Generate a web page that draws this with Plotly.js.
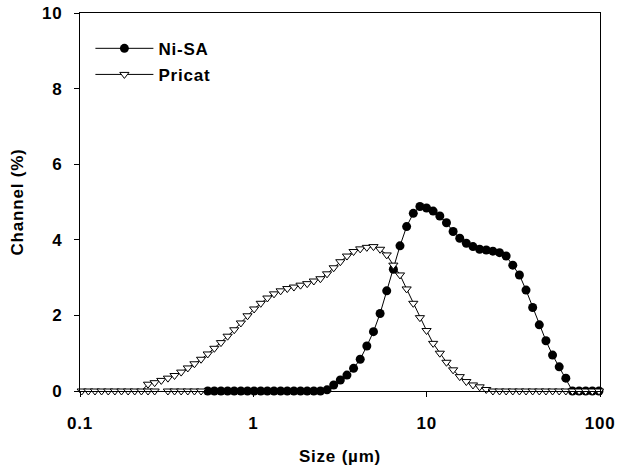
<!DOCTYPE html>
<html>
<head>
<meta charset="utf-8">
<script src="https://cdn.plot.ly/plotly-3.0.1.min.js"></script>
<style>
  html, body { margin: 0; padding: 0; background: #ffffff; }
  #chart { width: 617px; height: 474px; }
  #chart text { letter-spacing: 0.8px; }
</style>
</head>
<body>
<div id="chart"></div>
<script>
// Particle size channels (µm)
const sizeUm = [
  0.1023, 0.1117, 0.1220, 0.1332, 0.1455, 0.1589, 0.1735, 0.1895, 0.2069, 0.2260,
  0.2468, 0.2696, 0.2944, 0.3215, 0.3511, 0.3834, 0.4188, 0.4573, 0.4994, 0.5455,
  0.5957, 0.6506, 0.7105, 0.7759, 0.8474, 0.9254, 1.0105, 1.1036, 1.205, 1.316,
  1.437, 1.570, 1.714, 1.872, 2.045, 2.233, 2.438, 2.662, 2.908, 3.176,
  3.468, 3.787, 4.136, 4.517, 4.933, 5.387, 5.883, 6.425, 7.016, 7.663,
  8.372, 9.142, 9.984, 10.90, 11.91, 13.01, 14.21, 15.52, 16.94, 18.50,
  20.21, 22.07, 24.10, 26.32, 28.74, 31.39, 34.28, 37.43, 40.88, 44.65,
  48.76, 53.25, 58.16, 63.51, 69.36, 75.74, 82.71, 90.33, 98.65
];

// Ni-SA channel (%) — no data below ~0.55 µm
const niSA = [
  null, null, null, null, null, null, null, null, null, null,
  null, null, null, null, null, null, null, null, null, 0,
  0, 0, 0, 0, 0, 0, 0, 0, 0, 0,
  0, 0, 0, 0, 0, 0, 0, 0.03, 0.16, 0.29,
  0.42, 0.60, 0.84, 1.19, 1.57, 2.05, 2.65, 3.22, 3.84, 4.35,
  4.70, 4.88, 4.84, 4.76, 4.63, 4.45, 4.22, 4.04, 3.91, 3.82,
  3.75, 3.73, 3.70, 3.66, 3.57, 3.33, 3.07, 2.67, 2.21, 1.75,
  1.33, 0.95, 0.64, 0.34, 0, 0, 0, 0, 0
];

// Pricat channel (%)
const pricat = [
  0, 0, 0, 0, 0, 0, 0, 0, 0, 0,
  0.18, 0.22, 0.28, 0.34, 0.41, 0.50, 0.61, 0.72, 0.84, 0.98,
  1.13, 1.28, 1.45, 1.62, 1.80, 1.99, 2.17, 2.32, 2.46, 2.57,
  2.65, 2.71, 2.75, 2.80, 2.84, 2.91, 2.97, 3.10, 3.26, 3.42,
  3.57, 3.69, 3.76, 3.80, 3.82, 3.75, 3.60, 3.33, 3.07, 2.70,
  2.32, 1.94, 1.60, 1.26, 1.00, 0.76, 0.56, 0.38, 0.25, 0.16,
  0.11, 0.04, 0, 0, 0, 0, 0, 0, 0, 0,
  0, 0, 0, 0, 0, 0, 0, 0, 0
];

// Extra zero-valued Pricat points drawn on the baseline
const pricatZeroSize = [0.2468, 0.2696, 0.3215, 0.3511, 0.3834, 0.4188, 0.4573, 0.4994];
const pricatZeroVal = [0, 0, 0, 0, 0, 0, 0, 0];

const xTickVals = [0.1, 1, 10, 100];
const xTickText = ['0.1', '1', '10', '100'];
const yTickVals = [0, 2, 4, 6, 8, 10];
const yTickText = ['0', '2', '4', '6', '8', '10'];

const FONT = 'Liberation Sans, Arial, Helvetica, sans-serif';
const FS = 17;

const traces = [
  {
    x: sizeUm, y: niSA, name: 'Ni-SA', type: 'scatter', mode: 'lines+markers',
    legendgroup: 'a', connectgaps: false, cliponaxis: false,
    line: { color: '#000000', width: 1 },
    marker: { symbol: 'circle', size: 9, color: '#000000', line: { color: '#000000', width: 0 } }
  },
  {
    x: sizeUm, y: pricat, name: 'Pricat', type: 'scatter', mode: 'lines+markers',
    legendgroup: 'b', cliponaxis: false,
    line: { color: '#000000', width: 1 },
    marker: { symbol: 'triangle-down', size: 8, color: '#ffffff', line: { color: '#000000', width: 1 } }
  },
  {
    x: pricatZeroSize, y: pricatZeroVal, name: 'Pricat', type: 'scatter', mode: 'markers',
    legendgroup: 'b', showlegend: false, cliponaxis: false, hoverinfo: 'skip',
    marker: { symbol: 'triangle-down', size: 8, color: '#ffffff', line: { color: '#000000', width: 1 } }
  }
];

const layout = {
  width: 617, height: 474,
  margin: { l: 80, r: 17, t: 13, b: 83, pad: 0 },
  paper_bgcolor: '#ffffff', plot_bgcolor: '#ffffff',
  font: { family: FONT, size: FS, color: '#000000', weight: 'bold' },
  showlegend: true,
  legend: {
    x: 0.02, y: 0.953, xanchor: 'left', yanchor: 'top',
    bgcolor: 'rgba(0,0,0,0)', borderwidth: 0,
    font: { family: FONT, size: FS, color: '#000000', weight: 'bold' },
    traceorder: 'grouped', tracegroupgap: 1, itemwidth: 58
  },
  xaxis: {
    type: 'log', range: [-1, 2],
    tickmode: 'array', tickvals: xTickVals, ticktext: xTickText,
    ticks: 'outside', ticklen: 5, tickwidth: 1, tickcolor: '#000000',
    ticklabelstandoff: 12,
    showline: true, linecolor: '#000000', linewidth: 1, mirror: true,
    showgrid: false, zeroline: false,
    tickfont: { family: FONT, size: FS, color: '#000000', weight: 'bold' },
    title: { text: 'Size (µm)', font: { family: FONT, size: FS, color: '#000000', weight: 'bold' }, standoff: 17 }
  },
  yaxis: {
    range: [0, 10],
    tickmode: 'array', tickvals: yTickVals, ticktext: yTickText,
    ticks: 'outside', ticklen: 5, tickwidth: 1, tickcolor: '#000000',
    ticklabelstandoff: 8,
    showline: true, linecolor: '#000000', linewidth: 1, mirror: true,
    showgrid: false, zeroline: false,
    tickfont: { family: FONT, size: FS, color: '#000000', weight: 'bold' },
    title: { text: 'Channel (%)', font: { family: FONT, size: FS, color: '#000000', weight: 'bold' }, standoff: 15 }
  }
};

Plotly.newPlot('chart', traces, layout, { displayModeBar: false, staticPlot: true });
</script>
</body>
</html>
